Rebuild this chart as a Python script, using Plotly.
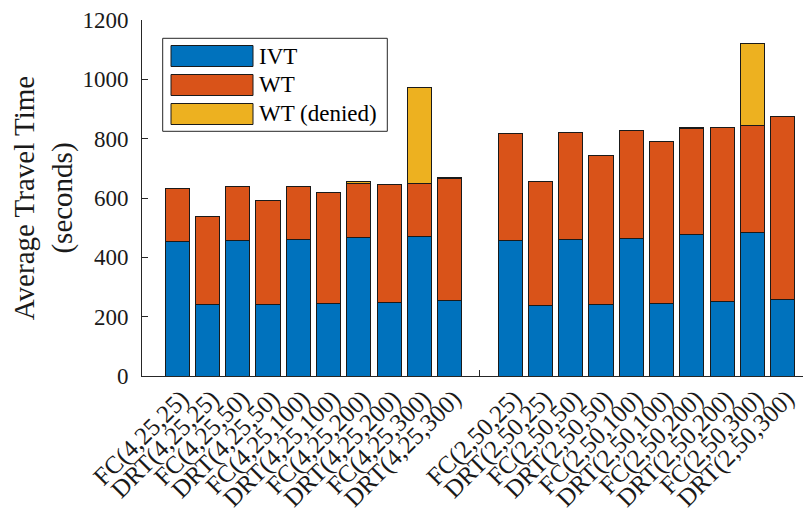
import plotly.graph_objects as go

categories = ["FC(4,25,25)", "DRT(4,25,25)", "FC(4,25,50)", "DRT(4,25,50)",
              "FC(4,25,100)", "DRT(4,25,100)", "FC(4,25,200)", "DRT(4,25,200)",
              "FC(4,25,300)", "DRT(4,25,300)", "",
              "FC(2,50,25)", "DRT(2,50,25)", "FC(2,50,50)", "DRT(2,50,50)",
              "FC(2,50,100)", "DRT(2,50,100)", "FC(2,50,200)", "DRT(2,50,200)",
              "FC(2,50,300)", "DRT(2,50,300)"]
ivt = [453, 240, 458, 240, 459, 243, 467, 247, 469, 253, None,
       458, 238, 460, 240, 464, 243, 476, 250, 485, 258]
wt = [179, 299, 182, 351, 180, 377, 182, 399, 181, 413, None,
      359, 419, 362, 504, 363, 546, 359, 588, 361, 618]
wt_denied = [None, None, None, None, None, None, 5, None, 323, 2, None,
             None, None, None, None, None, None, 4, None, 275, None]
series_names = ["IVT", "WT", "WT (denied)"]
yticks = [0, 200, 400, 600, 800, 1000, 1200]

colors = ["#0072BD", "#D95319", "#EDB120"]
FONT = "Liberation Serif"
AX = "#262626"
TXT = "#1a1a1a"
positions = list(range(1, len(categories) + 1))

fig = go.Figure()
for name, vals, col in zip(series_names, [ivt, wt, wt_denied], colors):
    fig.add_trace(go.Bar(x=positions, y=vals, name=name, width=0.8,
                         marker=dict(color=col, line=dict(color="#1a1a1a", width=1)),
                         showlegend=False))

# page offset (browser body margin) compensation
OFF = 8
FW, FH = 811 - OFF, 516 - OFF
# plot-area geometry in page pixels
L, R, T, B = 142, 811, 20, 376
W, H = R - L, B - T
def px(x):
    return (x - L) / W
def py(y):
    return (B - y) / H

shapes = [dict(type="rect", xref="paper", yref="paper",
               x0=px(162.7), x1=px(387.3), y0=py(38.3), y1=py(131.3),
               line=dict(color=AX, width=1), fillcolor="white", layer="above")]
annotations = []
for i, (name, col) in enumerate(zip(series_names, colors)):
    cy = 56 + i * 29
    shapes.append(dict(type="rect", xref="paper", yref="paper",
                       x0=px(171), x1=px(253), y0=py(cy - 10.5), y1=py(cy + 10.5),
                       line=dict(color="#1a1a1a", width=1), fillcolor=col, layer="above"))
    annotations.append(dict(xref="paper", yref="paper", x=px(257), y=py(cy),
                            text=name, showarrow=False, xanchor="left", yanchor="middle",
                            font=dict(family=FONT, size=23, color="black")))

fig.update_layout(
    width=FW, height=FH,
    margin=dict(l=L - OFF, r=811 - R, t=T - OFF, b=516 - B, autoexpand=False),
    paper_bgcolor="white", plot_bgcolor="white",
    barmode="stack", bargap=0.2,
    font=dict(family=FONT, color=AX),
    shapes=shapes, annotations=annotations,
)
fig.update_xaxes(range=[-0.163, 21.935], tickmode="array", tickvals=positions,
                 ticktext=categories, tickangle=-45, ticks="inside", ticklen=6,
                 tickcolor=AX, showline=True, linecolor=AX, linewidth=1,
                 showgrid=False, zeroline=False, layer="below traces",
                 ticklabelshift=4, ticklabelstandoff=-3,
                 tickfont=dict(family=FONT, size=25, color=TXT))
fig.update_yaxes(range=[0, 1200], tickmode="array", tickvals=yticks,
                 ticks="inside", ticklen=6, tickcolor=AX, showline=True,
                 linecolor=AX, linewidth=1, showgrid=False, zeroline=False,
                 ticklabelstandoff=8, ticklabeloverflow="allow",
                 tickfont=dict(family=FONT, size=23, color=TXT),
                 title=dict(text="Average Travel Time<br>(seconds)", standoff=1,
                            font=dict(family=FONT, size=29, color=TXT)))

fig.write_html("out.html")
